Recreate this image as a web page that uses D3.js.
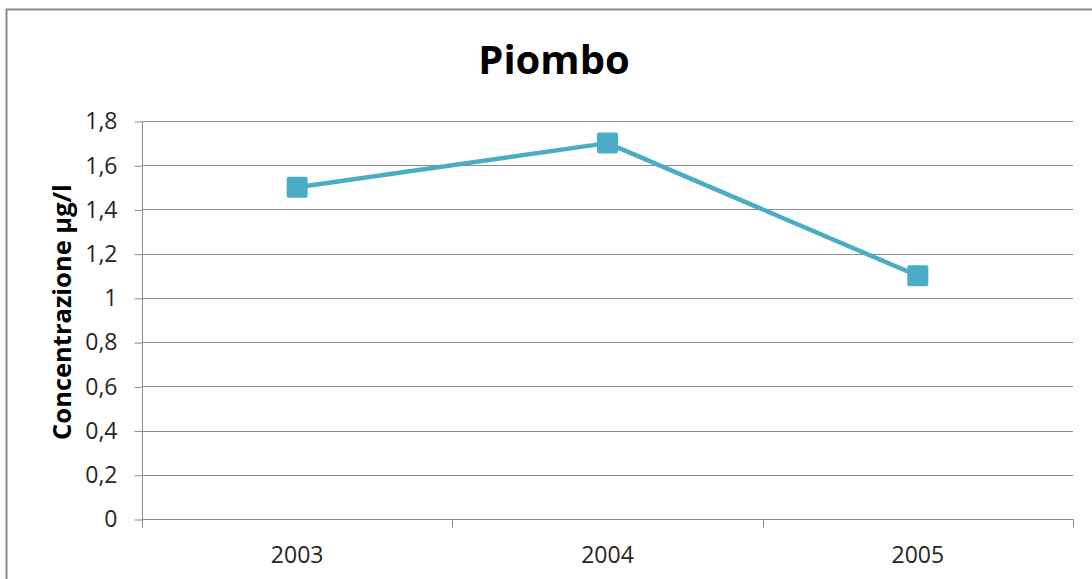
<!DOCTYPE html>
<html>
<head>
<meta charset="utf-8">
<script src="https://cdn.jsdelivr.net/npm/d3@7/dist/d3.min.js"></script>
<style>
  html, body { margin: 0; padding: 0; background: #fff; }
  svg { display: block; }
  text { font-family: "Open Sans", "Liberation Sans", sans-serif; }
</style>
</head>
<body>
<svg id="chart" width="1092" height="579"></svg>
<script>
// Lead concentration by year
const years = ["2003", "2004", "2005"];
const values = [1.5, 1.7, 1.1];
const yTicks = [0, 0.2, 0.4, 0.6, 0.8, 1, 1.2, 1.4, 1.6, 1.8];
const titleText = "Piombo";
const yTitle = "Concentrazione µg/l";

const svg = d3.select("#chart");
const W = 1092, H = 579;
const margin = { left: 142, right: 19, top: 121, bottom: 60 };

// Outer frame of the chart area
svg.append("rect")
  .attr("x", 6.5).attr("y", 9.5)
  .attr("width", W + 20).attr("height", H + 20)
  .attr("fill", "#fff")
  .attr("stroke", "#8a8a8a")
  .attr("stroke-width", 2);

const x = d3.scaleBand().domain(years).range([margin.left, W - margin.right]);
const y = d3.scaleLinear().domain([0, 1.8]).range([H - margin.bottom, margin.top]);

// Horizontal gridlines
svg.append("g")
  .selectAll("line")
  .data(yTicks)
  .join("line")
  .attr("x1", margin.left).attr("x2", W - margin.right)
  .attr("y1", d => Math.round(y(d)) + 0.5).attr("y2", d => Math.round(y(d)) + 0.5)
  .attr("stroke", "#8c8c8c").attr("stroke-width", 1);

const fmt = d => String(d).replace(".", ",");

// Y axis
const yAxis = svg.append("g")
  .attr("transform", `translate(${margin.left + 0.5},0.5)`)
  .call(d3.axisLeft(y).tickValues(yTicks).tickFormat(fmt).tickSize(8).tickPadding(17));
yAxis.attr("font-size", null).attr("font-family", null);
yAxis.select(".domain").attr("stroke", "#8c8c8c").attr("d", `M0,${y(1.8)}V${y(0)}`);
yAxis.selectAll(".tick line").attr("stroke", "#8c8c8c");
yAxis.selectAll(".tick text")
  .style("font-size", "23px").attr("fill", "#262626");

// X axis with ticks at category boundaries
const xAxisG = svg.append("g")
  .attr("transform", `translate(0,${Math.round(y(0)) + 0.5})`);
xAxisG.append("line")
  .attr("x1", margin.left).attr("x2", W - margin.right)
  .attr("stroke", "#8c8c8c");
const bounds = [margin.left].concat(years.map(d => x(d) + x.bandwidth()));
xAxisG.selectAll("line.bt")
  .data(bounds)
  .join("line")
  .attr("class", "bt")
  .attr("x1", d => Math.round(d) + 0.5).attr("x2", d => Math.round(d) + 0.5)
  .attr("y1", 0).attr("y2", 8)
  .attr("stroke", "#8c8c8c");
xAxisG.selectAll("text")
  .data(years)
  .join("text")
  .attr("x", d => x(d) + x.bandwidth() / 2)
  .attr("y", 43)
  .attr("text-anchor", "middle")
  .style("font-size", "23px").attr("fill", "#262626")
  .text(d => d);

// Series line
const cx = d => x(d) + x.bandwidth() / 2;
svg.append("path")
  .datum(values)
  .attr("fill", "none")
  .attr("stroke", "#4bacc6")
  .attr("stroke-width", 4.5)
  .attr("stroke-linejoin", "round")
  .attr("d", d3.line().x((d, i) => cx(years[i])).y(d => y(d)));

// Square markers
const ms = 21;
svg.append("g")
  .selectAll("rect")
  .data(values)
  .join("rect")
  .attr("x", (d, i) => cx(years[i]) - ms / 2)
  .attr("y", d => y(d) - ms / 2)
  .attr("width", ms).attr("height", ms)
  .attr("rx", 2)
  .attr("fill", "#4bacc6");

// Title
svg.append("text")
  .attr("x", 554).attr("y", 74)
  .attr("text-anchor", "middle")
  .style("font-size", "40px").attr("font-weight", "bold")
  .attr("fill", "#000")
  .text(titleText);

// Y axis title
svg.append("text")
  .attr("transform", `translate(71,${(y(0) + y(1.8)) / 2 - 8}) rotate(-90)`)
  .attr("text-anchor", "middle")
  .style("font-size", "25.5px").attr("font-weight", "bold")
  .attr("fill", "#000")
  .text(yTitle);
</script>
</body>
</html>
